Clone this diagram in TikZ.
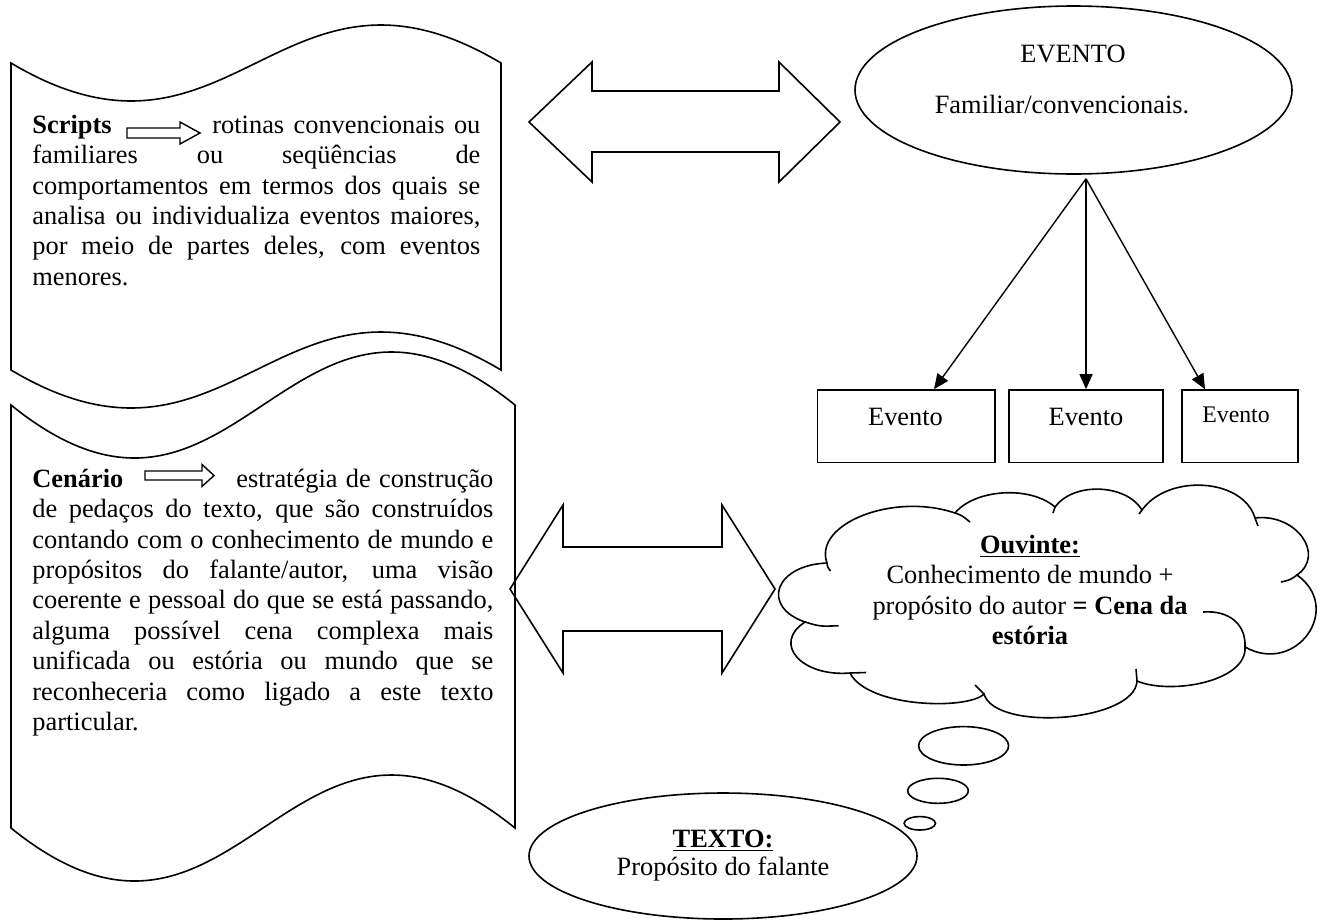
\documentclass[tikz,border=0pt]{standalone}
\usepackage{fontspec}
\setmainfont{Liberation Serif}
\usetikzlibrary{shapes.geometric,arrows.meta,calc}

\begin{document}
\begin{tikzpicture}[x=0.5pt,y=-0.5pt,
  outline/.style={draw=black,line width=0.8pt,line join=miter},
  thinline/.style={draw=black,line width=0.7pt},
  body/.style={font=\fontsize{13.2}{15.2}\selectfont,inner sep=0pt},
  para/.style={body,anchor=north west,align=justify},
  evbox/.style={outline,rectangle,inner sep=0pt,minimum height=36.35pt},
  fan/.style={line width=0.7pt,-{Triangle[length=7.5pt,width=6.5pt]}},
]
\useasboundingbox (0,0) rectangle (1325,922);

% ---------- wavy banner holding the "Scripts" definition
\draw[outline] (11,63) .. controls (231.5,194.6) and (280.5,-68.6) .. (501,63)
  -- (501,370) .. controls (280.5,238.4) and (231.5,501.6) .. (11,370) -- cycle;
% ---------- wavy banner holding the "Cenario" definition
\draw[outline] (11,405) .. controls (237.8,588.6) and (288.2,221.4) .. (515,405)
  -- (515,828) .. controls (288.2,644.4) and (237.8,1011.6) .. (11,828) -- cycle;

\node[para,text width=224pt] (scripts) at (32,111.7)
 {\noindent\strut\makebox[90pt][l]{\textbf{Scripts}}rotinas convencionais ou\linebreak
  familiares ou seqüências de\linebreak
  comportamentos em termos dos quais se\linebreak
  analisa ou individualiza eventos maiores,\linebreak
  por meio de partes deles, com eventos\linebreak
  menores.};

\node[para,text width=230.5pt] (cenario) at (32,465.7)
 {\noindent\strut\makebox[102pt][l]{\textbf{Cenário}}estratégia de construção\linebreak
  de pedaços do texto, que são construídos\linebreak
  contando com o conhecimento de mundo e\linebreak
  propósitos do falante/autor, uma visão\linebreak
  coerente e pessoal do que se está passando,\linebreak
  alguma possível cena complexa mais\linebreak
  unificada ou estória ou mundo que se\linebreak
  reconheceria como ligado a este texto\linebreak
  particular.};

% small block arrows inside the two definitions
\draw[thinline] (127,128) -- (180,128) -- (180,122) -- (200,133) -- (180,144)
  -- (180,138) -- (127,138) -- cycle;
\draw[thinline] (145,471) -- (202,471) -- (202,464.5) -- (214,475.5) -- (202,486.5)
  -- (202,480) -- (145,480) -- cycle;

% ---------- large two-headed block arrows
\draw[outline] (529,122) -- (592,62) -- (592,91) -- (779,91) -- (779,62) -- (840,122)
  -- (779,182) -- (779,152) -- (592,152) -- (592,182) -- cycle;
\draw[outline] (510,589) -- (563,505) -- (563,547) -- (722,547) -- (722,505) -- (775,589)
  -- (722,673) -- (722,631) -- (563,631) -- (563,673) -- cycle;

% ---------- event and its sub-events
\node[outline,ellipse,minimum width=218.5pt,minimum height=84pt,inner sep=0pt]
  (evento) at (1073.5,90) {};
\node[body,anchor=base] (eventotitle) at (1073,62) {EVENTO};
\node[body,anchor=base] (eventosub) at (1062,113) {Familiar/convencionais.};
\coordinate (fork) at ([xshift=6.25pt,yshift=-2pt]evento.south);

\node[evbox,minimum width=88.8pt] (ev1) at (906.2,426.3) {};
\node[evbox,minimum width=77pt] (ev2) at (1086,426.3) {};
\node[evbox,minimum width=58pt] (ev3) at (1240,426.3) {};
\node[body,anchor=base] (ev1text) at (905.5,425) {Evento};
\node[body,anchor=base] (ev2text) at (1086,425) {Evento};
\node[body,anchor=base,font=\fontsize{11.9}{13.7}\selectfont] (ev3text) at (1236,422) {Evento};

\draw[fan] (fork) -- ([xshift=13.9pt]ev1.north);
\draw[fan] (fork) -- (ev2.north);
\draw[fan] (fork) -- ([xshift=-17.5pt]ev3.north);

% ---------- thought cloud of the listener
\draw[outline] (827,563)
  .. controls (813,524) and (893,492) .. (955,513)
  .. controls (974.7,489.2) and (1029.8,485.2) .. (1055,507)
  .. controls (1073.5,481.6) and (1126.3,483.8) .. (1142,510)
  .. controls (1168.2,473.5) and (1243,478) .. (1255,518)
  .. controls (1295.5,513) and (1326,554.3) .. (1297,575)
  .. controls (1344,608.7) and (1295.8,675.6) .. (1245,647)
  .. controls (1247,682) and (1170,695) .. (1137,681)
  .. controls (1135,722) and (995,732) .. (984,694)
  .. controls (968,710) and (868,708) .. (850,673)
  .. controls (801.5,677) and (771.7,643.5) .. (805,622)
  .. controls (760.1,606.3) and (775.4,565) .. (827,563) -- cycle;
% inner creases of the cloud
\draw[outline] (827,563) .. controls (827.5,567) .. (830.5,571);
\draw[outline] (955,513) .. controls (962,515.5) .. (970,522);
\draw[outline] (1055,507) .. controls (1054.5,510) .. (1053,513);
\draw[outline] (1142,510) .. controls (1141,512) .. (1139,514);
\draw[outline] (1255,518) .. controls (1256.5,522) .. (1258,526);
\draw[outline] (1297,575) .. controls (1290,580) .. (1281,582);
\draw[outline] (1245,647) .. controls (1246,625) and (1230,610) .. (1203,612);
\draw[outline] (1137,681) .. controls (1137,675) .. (1136,669);
\draw[outline] (984,694) .. controls (979,689) .. (975,685);
\draw[outline] (850,673) .. controls (858,673.5) .. (866,672.5);
\draw[outline] (805,622) .. controls (820,626.5) .. (838.5,625.7);

\node[body,align=center,anchor=north] (ouvinte) at (1030,531.7)
 {\strut\underline{\textbf{Ouvinte:}}\\
  Conhecimento de mundo +\\
  propósito do autor \textbf{= Cena da}\\
  \textbf{estória}};

% thought bubbles leading down to the text
\draw[outline] (963.6,745.8) ellipse [x radius=45, y radius=19.2];
\draw[outline] (938,790.8) ellipse [x radius=30.3, y radius=12.5];
\draw[outline] (919.8,823.3) ellipse [x radius=15.7, y radius=6.7];

% ---------- text / speaker
\node[outline,ellipse,minimum width=194pt,minimum height=63pt,inner sep=0pt]
  (texto) at (723,856) {};
\node[body,anchor=base] (textotitle) at (723,847) {\underline{\textbf{TEXTO:}}};
\node[body,anchor=base] (textosub) at (723,875) {Propósito do falante};

\end{tikzpicture}
\end{document}
